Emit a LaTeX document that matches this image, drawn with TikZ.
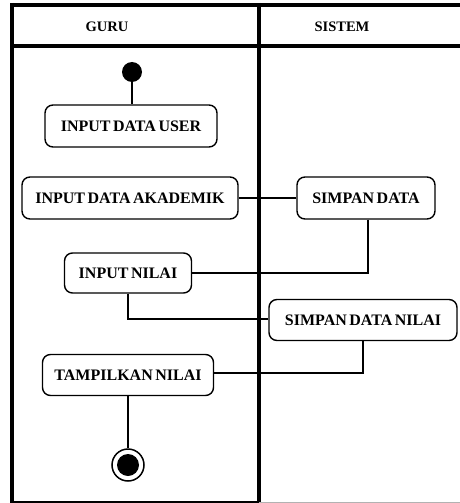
\documentclass[tikz,border=0pt]{standalone}
\usepackage{fontspec}
\setmainfont{Liberation Serif}
\newcommand\mytightsp{\spaceskip=2.5pt\relax}
\begin{document}
\begin{tikzpicture}[x=1pt,y=-1pt,
  act/.style={draw=black,line width=1.4pt,rounded corners=8pt,fill=white,inner sep=0pt,
    font=\fontsize{16}{16}\selectfont\bfseries\mytightsp},
  conn/.style={draw=black,line width=1.8pt},
  lane/.style={draw=black,line width=3.8pt},
  hdr/.style={font=\fontsize{14.5}{15}\selectfont\bfseries,inner sep=0pt}]
\useasboundingbox (0,0) rectangle (460,503);
\fill[white] (0,0) rectangle (460,503);
% frame
\draw[lane] (12,5) -- (460,5);
\draw[lane] (12,46) -- (460,46);
\draw[lane] (12,3) -- (12,503);
\draw[lane] (259,3) -- (259,503);
\draw[black,line width=2.5pt] (12,502) -- (259,502);
\draw[gray!60,line width=0.8pt] (259,502) -- (460,502);
\node[hdr] (hguru) at (107,27) {GURU};
\node[hdr] (hsis) at (342,27) {SISTEM};
% nodes
\node[circle,fill=black,minimum size=20pt,inner sep=0pt] (start) at (132,72) {};
\node[act,minimum width=172pt,minimum height=42pt] (user) at (131,126) {INPUT DATA USER};
\node[act,minimum width=216pt,minimum height=42pt] (akad) at (130,198) {INPUT DATA AKADEMIK};
\node[act,minimum width=138pt,minimum height=42pt] (simpan) at (366,198) {SIMPAN DATA};
\node[act,minimum width=127pt,minimum height=40pt] (nilai) at (128,273) {INPUT NILAI};
\node[act,minimum width=188pt,minimum height=41pt] (snilai) at (363,320) {SIMPAN DATA NILAI};
\node[act,minimum width=171pt,minimum height=41pt] (tampil) at (128,375) {TAMPILKAN NILAI};
\node[circle,draw=black,line width=1.5pt,minimum size=32pt,inner sep=0pt] (end) at (128,465) {};
\node[circle,fill=black,minimum size=22pt,inner sep=0pt] (endin) at (end.center) {};
% connectors
\draw[conn] (start) -- (start |- user.north);
\draw[conn] (user.south -| start) -- (user.south -| start |- akad.north);
\draw[conn] (akad.east) -- (simpan.west);
\draw[conn] (simpan.south -| 368,0) -- (368,273) -- (nilai.east);
\draw[conn] (nilai.south) -- (128,319) -- (snilai.west |- 0,319);
\draw[conn] (snilai.south -| 363,0) -- (363,373) -- (tampil.east |- 0,373);
\draw[conn] (tampil.south) -- (end.north);
\end{tikzpicture}
\end{document}
